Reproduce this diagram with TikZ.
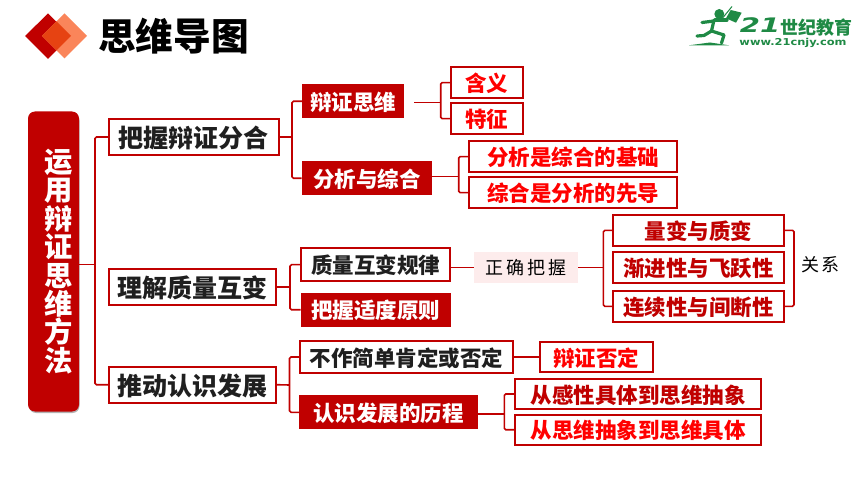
\documentclass[tikz,border=0pt]{standalone}
\usepackage{fontspec}
\usepackage{graphicx}
\setmainfont{Noto Sans CJK SC}
\newfontfamily\dvs{DejaVu Sans}
\definecolor{dred}{HTML}{C00000}
\definecolor{bred}{HTML}{FF0000}
\definecolor{logog}{HTML}{1F8A45}
\newcommand\fsz[1]{\fontsize{#1}{#1}\selectfont}
\newcommand\bx[7][]{%
  \pgfmathsetmacro\bw{#5-#3}\pgfmathsetmacro\bh{#6-#4}%
  \pgfmathsetmacro\cx{(#3+#5)/2}\pgfmathsetmacro\cy{(#4+#6)/2}%
  \node[#2,minimum width=\bw pt,minimum height=\bh pt,#1] (#7) at (\cx,\cy)}
\tikzset{
  base/.style={inner sep=0pt,outer sep=0pt,font=\fsz{21.5}\bfseries,line width=1.8pt,text height=19.8pt,text depth=1.7pt},
  lone/.style={base,draw=dred,fill=white,text=black!88,font=\fsz{25}\bfseries,text height=23pt,text depth=2pt},
  blk/.style={base,draw=dred,fill=white,text=black!88},
  filled/.style={base,fill=dred,text=white},
  redb/.style={base,draw=dred,fill=white,text=bred},
  darkb/.style={base,draw=dred,fill=white,text=dred},
  plain/.style={inner sep=0pt,outer sep=0pt,text=black!85},
  link/.style={draw=dred,line width=1.6pt,rounded corners=1.5pt},
  logofill/.style={fill=logog,draw=none},
  limb/.style={draw=logog,line width=3.2pt,line cap=round,line join=round}
}
\begin{document}
\begin{tikzpicture}[x=1pt,y=-1pt]
\useasboundingbox (0,0) rectangle (860,484);
% title icon
\fill[dred] (25,36) -- (48,13.5) -- (71,36) -- (48,59) -- cycle;
\fill[fill={rgb,255:red,250;green,133;blue,90}] (42,36) -- (64.5,13.5) -- (87,36) -- (64.5,58.5) -- cycle;
\fill[fill={rgb,255:red,230;green,67;blue,18}] (42,36) -- (56.5,21.5) -- (71,36) -- (56.5,50.5) -- cycle;
\node[plain,text=black,font=\fsz{37.7}\bfseries] (title) at (173.5,36.5) {思维导图};
% logo
\fill[logofill] (689,45.3) -- (729,45.3) -- (710,42.5) -- cycle;
\fill[logog] (719.3,14) circle (5);
\fill[logofill] (726,18.3) -- (730.7,10) -- (741.7,12.7) -- (736,22.7) -- cycle;
\draw[logog,line width=1pt] (721,20) -- (732,6.5);
\draw[limb] (714,20) -- (711.5,31);
\draw[limb] (714,21) -- (702,22.5);
\draw[limb] (715,20) -- (727,20);
\draw[limb] (711.5,31) -- (724,35) -- (721.5,43);
\draw[limb] (711.5,31) -- (704,35.5) -- (697,36);
\node[plain,text=logog,font=\fsz{20}\dvs\bfseries\itshape] (logoa) at (760,25.5) {\scalebox{1.45}[1]{21}};
\node[plain,text=logog,font=\fsz{18}\bfseries] (logob) at (816.5,28) {世纪教育};
\node[plain,text=logog,font=\fsz{9.5}\dvs\bfseries] (logoc) at (793,43) {\scalebox{1.2}[1]{www.21cnjy.com}};
% root
\fill[black,opacity=.3,rounded corners=7pt] (29,113.5) rectangle (79.5,413);
\bx{filled,rounded corners=7pt,font=\fsz{28.3}\bfseries,text height=,text depth=}{28}{111.5}{79}{411.5}{root}{\hspace*{11pt}\parbox{28.3pt}{\centering\fontsize{28.3}{28.4}\selectfont 运\\用\\辩\\证\\思\\维\\方\\法}};
% level 1
\bx{lone}{108.7}{119}{279}{155}{a}{把握辩证分合};
\bx{lone}{108.7}{269}{276}{305}{b}{理解质量互变};
\bx{lone}{108.7}{366.7}{276}{402.7}{c}{推动认识发展};
% branch a
\bx{filled}{302.3}{84.3}{404}{118.3}{a1}{辩证思维};
\bx{filled}{301.7}{161.3}{432.3}{195.3}{a2}{分析与综合};
\bx{redb}{451}{67.3}{522.7}{98}{a11}{含义};
\bx{redb}{451}{103.3}{522.7}{134}{a12}{特征};
\bx{redb}{469.3}{141.3}{677.3}{172}{a21}{分析是综合的基础};
\bx{redb}{469.3}{177.3}{677.3}{208}{a22}{综合是分析的先导};
% branch b
\bx{blk}{301}{248.3}{450}{281}{b1}{质量互变规律};
\bx{filled}{300.7}{292.7}{450.5}{326.7}{b2}{把握适度原则};
\bx{base,fill={rgb,255:red,253;green,236;blue,236},font=\fsz{18}\selectfont,text=black,text height=,text depth=}{474.3}{252}{578}{282.7}{zq}{正\hspace{3pt}确\hspace{3pt}把\hspace{3pt}握};
\bx{darkb}{612.7}{215}{784}{245.7}{b11}{量变与质变};
\bx{darkb}{612.7}{252.3}{784}{283}{b12}{渐进性与飞跃性};
\bx{darkb}{612.7}{291}{784}{321.7}{b13}{连续性与间断性};
\node[plain,font=\fsz{18},text=black] (gx) at (820.5,265) {关\hspace{3pt}系};
% branch c
\bx{blk}{299.7}{340.7}{513.3}{373.3}{c1}{不作简单肯定或否定};
\bx{filled}{299}{395.3}{477.7}{429.3}{c2}{认识发展的历程};
\bx{redb}{540}{342}{652.7}{372}{c11}{辩证否定};
\bx{darkb}{515}{379}{761}{409}{c21}{从感性具体到思维抽象};
\bx{redb}{515}{414.7}{761}{444.7}{c22}{从思维抽象到思维具体};
% hubs
\coordinate (h0) at (95,264.3);
\coordinate (ha) at (292,137);
\coordinate (ha1) at (440.7,102.7);
\coordinate (ha1s) at (414,102.7);
\coordinate (ha2) at (458.7,176.7);
\coordinate (hb) at (290,287);
\coordinate (hzq) at (603.3,267);
\coordinate (hgx) at (794,267);
\coordinate (hc) at (289.5,385);
\coordinate (hc2) at (504.3,414);
% connectors
\draw[link] (root.east |- h0) -- (h0);
\draw[link] (a.west) -| (h0) |- (c.west);
\draw[link] (a.east) -- (ha);
\draw[link] (a1.west) -| (ha) |- (a2.west);
\draw[link] (ha1s) -- (ha1);
\draw[link] (a11.west) -| (ha1) |- (a12.west);
\draw[link] (a2.east |- ha2) -- (ha2);
\draw[link] (a21.west) -| (ha2) |- (a22.west);
\draw[link] (b.east) -- (hb);
\draw[link] (b1.west) -| (hb) |- (b2.west);
\draw[link] (b1.east |- zq.west) -- (zq.west);
\draw[link] (zq.east) -- (hzq |- zq.east);
\draw[link] (b11.west) -| (hzq) |- (b13.west);
\draw[link] (b11.east) -| (hgx) |- (b13.east);
\draw[link] (c.east) -- (hc);
\draw[link] (c1.west) -| (hc) |- (c2.west);
\draw[link] (c1.east) -- (c11.west);
\draw[link] (c2.east |- hc2) -- (hc2);
\draw[link] (c21.west) -| (hc2) |- (c22.west);
\end{tikzpicture}
\end{document}
